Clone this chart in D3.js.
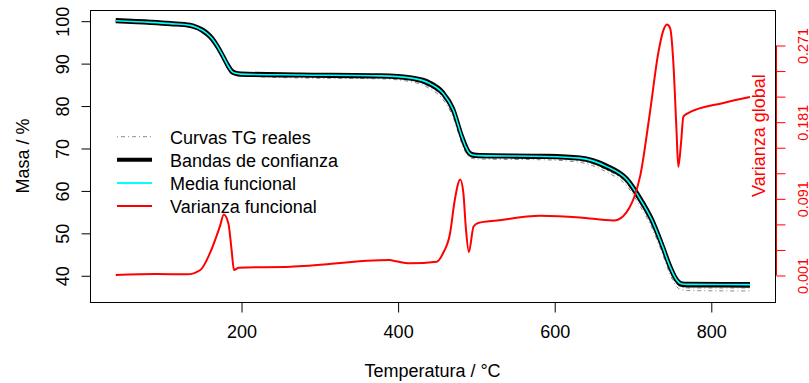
<!DOCTYPE html>
<html>
<head>
<meta charset="utf-8">
<script src="https://cdnjs.cloudflare.com/ajax/libs/d3/7.8.5/d3.min.js"></script>
<style>
  body { margin: 0; background: #fff; }
  svg { display: block; font-family: "Liberation Sans", Arial, sans-serif; }
</style>
</head>
<body>
<script>
// TG curves, temperature grid (°C) and mass (%)
var temps = [40, 85, 110, 135, 145, 155, 163, 170, 177, 183, 188, 193, 200,
  275, 378, 420, 441, 458, 471, 482, 487, 491, 496, 505,
  590, 633, 667, 693, 710, 725, 738, 748, 756, 762, 770, 850];

var tgMean = [100.0, 99.6, 99.3, 98.9, 98.3, 97.2, 95.8, 93.9, 91.6, 89.5, 88.1, 87.6, 87.4,
  87.2, 87.0, 86.4, 85.2, 82.9, 79.0, 72.7, 70.3, 68.9, 68.35, 68.2,
  68.0, 67.6, 65.6, 62.5, 57.9, 52.9, 47.0, 42.0, 39.0, 38.0, 37.85, 37.8];

var bandUpper = [100.2, 99.8, 99.5, 99.1, 98.5, 97.5, 96.1, 94.2, 91.9, 89.8, 88.4, 87.8, 87.6,
  87.4, 87.2, 86.6, 85.5, 83.2, 79.4, 73.1, 70.7, 69.2, 68.6, 68.4,
  68.2, 67.8, 65.9, 62.8, 58.3, 53.3, 47.4, 42.4, 39.3, 38.2, 38.05, 38.0];

var bandLower = [99.8, 99.4, 99.1, 98.7, 98.1, 96.9, 95.5, 93.6, 91.3, 89.2, 87.8, 87.4, 87.2,
  87.0, 86.8, 86.2, 84.9, 82.6, 78.6, 72.3, 69.9, 68.6, 68.1, 68.0,
  67.8, 67.4, 65.3, 62.2, 57.5, 52.5, 46.6, 41.6, 38.7, 37.7, 37.55, 37.5];

var realCurve1 = [100.1, 99.7, 99.4, 99.0, 98.4, 97.4, 96.0, 94.1, 91.8, 89.7, 88.2, 87.7, 87.5,
  87.3, 87.1, 86.5, 85.4, 83.1, 79.2, 72.9, 70.5, 69.0, 68.5, 68.3,
  68.1, 67.7, 65.8, 62.7, 58.1, 53.1, 47.2, 42.2, 39.1, 38.1, 37.95, 37.9];
var realCurve2 = [99.7, 99.3, 99.0, 98.6, 98.0, 96.8, 95.4, 93.5, 91.2, 89.1, 87.7, 87.3, 87.1,
  86.7, 86.5, 85.8, 84.4, 82.0, 77.9, 71.6, 69.3, 68.2, 67.8, 67.7,
  67.5, 67.0, 64.8, 61.6, 56.9, 51.8, 45.9, 40.9, 38.1, 37.2, 37.0, 37.0];
var realCurve3 = [99.6, 99.2, 98.9, 98.5, 97.9, 96.7, 95.3, 93.4, 91.1, 89.0, 87.6, 87.2, 87.0,
  86.5, 86.3, 85.5, 84.0, 81.4, 77.2, 71.0, 68.9, 67.9, 67.5, 67.4,
  67.2, 66.6, 64.3, 61.0, 56.2, 51.1, 45.2, 40.2, 37.4, 36.6, 36.4, 36.3];

// functional variance (right axis)
var varTemps = [40, 92, 131, 148, 160, 173, 178, 184, 188, 191, 197, 263, 390, 395, 416, 450, 458, 467, 473, 480,
  484, 487, 491, 497, 503, 527, 582, 633, 676, 688, 696, 702, 710, 722, 733, 739, 744, 748, 752, 756,
  758.5, 762, 765, 771, 816, 850];
var varValues = [0.001, 0.0022, 0.0018, 0.0069, 0.026, 0.058, 0.072, 0.061, 0.030, 0.0069,
  0.0096, 0.0107, 0.0186, 0.0178, 0.0147, 0.0166, 0.0265, 0.050, 0.089, 0.113,
  0.097, 0.058, 0.028, 0.058, 0.062, 0.065, 0.0705, 0.0686, 0.065, 0.070,
  0.080, 0.092, 0.118, 0.190, 0.262, 0.287, 0.295, 0.291, 0.253, 0.175,
  0.128, 0.156, 0.187, 0.191, 0.203, 0.210];

var xTicks = [200, 400, 600, 800];
var yTicks = [40, 50, 60, 70, 80, 90, 100];
var varTicks = [0.001, 0.031, 0.061, 0.091, 0.121, 0.151, 0.181, 0.211, 0.241, 0.271];
var varTickLabels = ['0.001', '0.091', '0.181', '0.271'];
var legendLabels = ['Curvas TG reales', 'Bandas de confianza', 'Media funcional', 'Varianza funcional'];

var width = 809, height = 383;
var plotLeft = 90, plotRight = 775, plotTop = 10, plotBottom = 302;

var svg = d3.select('body').append('svg').attr('width', width).attr('height', height);

var x = d3.scaleLinear().domain([7.1, 882]).range([plotLeft, plotRight]);
var y = d3.scaleLinear().domain([33.7, 102.52]).range([plotBottom, plotTop]);
var y2 = d3.scaleLinear().domain([-0.0307, 0.3121]).range([plotBottom, plotTop]);

function tgLine(values) {
  return d3.line()
    .x(function(d, i) { return x(temps[i]); })
    .y(function(d) { return y(d); })
    .curve(d3.curveMonotoneX)(values);
}

// real curves, dot-dash grey
[realCurve1, realCurve2, realCurve3].forEach(function(c) {
  svg.append('path').attr('d', tgLine(c))
    .attr('fill', 'none').attr('stroke', '#8a8a8a').attr('stroke-width', 1)
    .attr('stroke-dasharray', '1,3,4,3');
});

// confidence bands
[bandUpper, bandLower].forEach(function(c) {
  svg.append('path').attr('d', tgLine(c))
    .attr('fill', 'none').attr('stroke', '#000').attr('stroke-width', 3.5)
    .attr('stroke-linejoin', 'round');
});

// functional mean
svg.append('path').attr('d', tgLine(tgMean))
  .attr('fill', 'none').attr('stroke', 'cyan').attr('stroke-width', 1.6);

// functional variance
var varLine = d3.line()
  .x(function(d, i) { return x(varTemps[i]); })
  .y(function(d) { return y2(d); })
  .curve(d3.curveMonotoneX);

svg.append('path').attr('d', varLine(varValues))
  .attr('fill', 'none').attr('stroke', '#ff0000').attr('stroke-width', 2);

// box
svg.append('rect')
  .attr('x', plotLeft + 0.5).attr('y', plotTop + 0.5)
  .attr('width', plotRight - plotLeft).attr('height', plotBottom - plotTop)
  .attr('fill', 'none').attr('stroke', '#000');

// bottom axis
var gx = svg.append('g').attr('transform', 'translate(0.5,' + (plotBottom + 0.5) + ')')
  .call(d3.axisBottom(x).tickValues(xTicks).tickSize(10).tickPadding(12.5).tickFormat(d3.format('d')));
gx.select('.domain').remove();
gx.selectAll('text').attr('font-size', 18).attr('font-family', null).attr('fill', '#000');

// left axis, labels parallel to the axis
var gy = svg.append('g').attr('transform', 'translate(' + (plotLeft + 0.5) + ',0.5)')
  .call(d3.axisLeft(y).tickValues(yTicks).tickSize(9));
gy.select('.domain').remove();
gy.selectAll('text')
  .attr('x', null).attr('dy', null)
  .attr('text-anchor', 'middle')
  .attr('transform', 'translate(-22,0) rotate(-90)')
  .attr('font-size', 18).attr('font-family', null).attr('fill', '#000');

// right axis (variance), red
var gr = svg.append('g').attr('transform', 'translate(' + (plotRight + 1.5) + ',0.5)')
  .call(d3.axisRight(y2).tickValues(varTicks).tickSize(9).tickFormat(function(d) {
    var s = d3.format('.3f')(d);
    return varTickLabels.indexOf(s) >= 0 ? s : '';
  }));
gr.select('.domain').remove();
gr.append('line')
  .attr('x1', 0).attr('x2', 0)
  .attr('y1', y2(varTicks[0])).attr('y2', y2(varTicks[varTicks.length - 1]))
  .attr('stroke', '#ff0000');
gr.selectAll('.tick line').attr('stroke', '#ff0000');
gr.selectAll('text')
  .attr('x', null).attr('dy', null)
  .attr('text-anchor', 'middle')
  .attr('transform', 'translate(31,0) rotate(-90)')
  .attr('font-size', 14.4).attr('font-family', null).attr('fill', '#ff0000');

// axis titles
svg.append('text').attr('x', (plotLeft + plotRight) / 2).attr('y', 376.5)
  .attr('text-anchor', 'middle').attr('font-size', 18).text('Temperatura / °C');

svg.append('text')
  .attr('transform', 'translate(28.5,' + ((plotTop + plotBottom) / 2) + ') rotate(-90)')
  .attr('text-anchor', 'middle').attr('font-size', 18).text('Masa / %');

svg.append('text')
  .attr('transform', 'translate(765,135.5) rotate(-90)')
  .attr('text-anchor', 'middle').attr('font-size', 18).attr('fill', '#ff0000').text('Varianza global');

// legend
var legendStyles = [
  { stroke: '#8a8a8a', width: 1, dash: '1,3,4,3' },
  { stroke: '#000', width: 4, dash: null },
  { stroke: 'cyan', width: 2, dash: null },
  { stroke: '#ff0000', width: 2, dash: null }
];

var legend = svg.append('g');
legendLabels.forEach(function(label, i) {
  var ly = 136.7 + i * 23.1;
  legend.append('line')
    .attr('x1', 117).attr('x2', 152).attr('y1', ly).attr('y2', ly)
    .attr('stroke', legendStyles[i].stroke)
    .attr('stroke-width', legendStyles[i].width)
    .attr('stroke-dasharray', legendStyles[i].dash);
  legend.append('text')
    .attr('x', 170).attr('y', ly + 7)
    .attr('font-size', 18).text(label);
});
</script>
</body>
</html>
